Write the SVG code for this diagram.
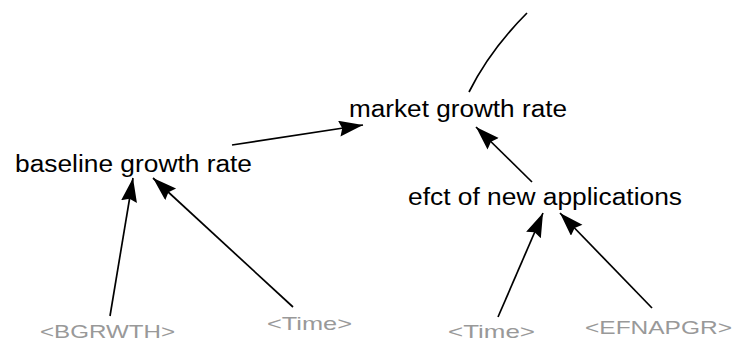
<svg xmlns="http://www.w3.org/2000/svg" width="733" height="343" viewBox="0 0 733 343">
<style>
.lbl{font-family:"Liberation Sans",Arial,sans-serif;font-size:23px;fill:#000}
.shd{font-family:"Liberation Sans",Arial,sans-serif;font-size:19px;fill:#999}
.ln{stroke:#000;stroke-width:1.7;fill:none}
</style>
<defs>
<marker id="ah" markerUnits="userSpaceOnUse" markerWidth="26" markerHeight="18" refX="24" refY="8" orient="auto">
<path d="M0,0 L24,8 L0,16 L3,8 z" fill="#000"/>
</marker>
</defs>
<rect width="733" height="343" fill="#fff"/>
<g id="connectors">
<path class="ln" d="M469,92 Q490,50 527,13"/>
<line class="ln" x1="232" y1="145" x2="363" y2="125" marker-end="url(#ah)"/>
<line class="ln" x1="532" y1="182" x2="476" y2="127" marker-end="url(#ah)"/>
<line class="ln" x1="110" y1="316" x2="133" y2="178" marker-end="url(#ah)"/>
<line class="ln" x1="293" y1="307" x2="153" y2="178" marker-end="url(#ah)"/>
<line class="ln" x1="498" y1="317" x2="543" y2="213" marker-end="url(#ah)"/>
<line class="ln" x1="652" y1="308" x2="560" y2="213" marker-end="url(#ah)"/>
</g>
<g id="market_growth_rate"><text class="lbl" x="349" y="117" textLength="218" lengthAdjust="spacingAndGlyphs">market growth rate</text></g>
<g id="baseline_growth_rate"><text class="lbl" x="15" y="172" textLength="237" lengthAdjust="spacingAndGlyphs">baseline growth rate</text></g>
<g id="efct_of_new_applications"><text class="lbl" x="408" y="205" textLength="274" lengthAdjust="spacingAndGlyphs">efct of new applications</text></g>
<g id="BGRWTH"><text class="shd" x="40" y="338" textLength="135" lengthAdjust="spacingAndGlyphs">&lt;BGRWTH&gt;</text></g>
<g id="Time_left"><text class="shd" x="267" y="330" textLength="85" lengthAdjust="spacingAndGlyphs">&lt;Time&gt;</text></g>
<g id="Time_right"><text class="shd" x="448" y="338" textLength="87" lengthAdjust="spacingAndGlyphs">&lt;Time&gt;</text></g>
<g id="EFNAPGR"><text class="shd" x="585" y="334" textLength="147" lengthAdjust="spacingAndGlyphs">&lt;EFNAPGR&gt;</text></g>
</svg>
